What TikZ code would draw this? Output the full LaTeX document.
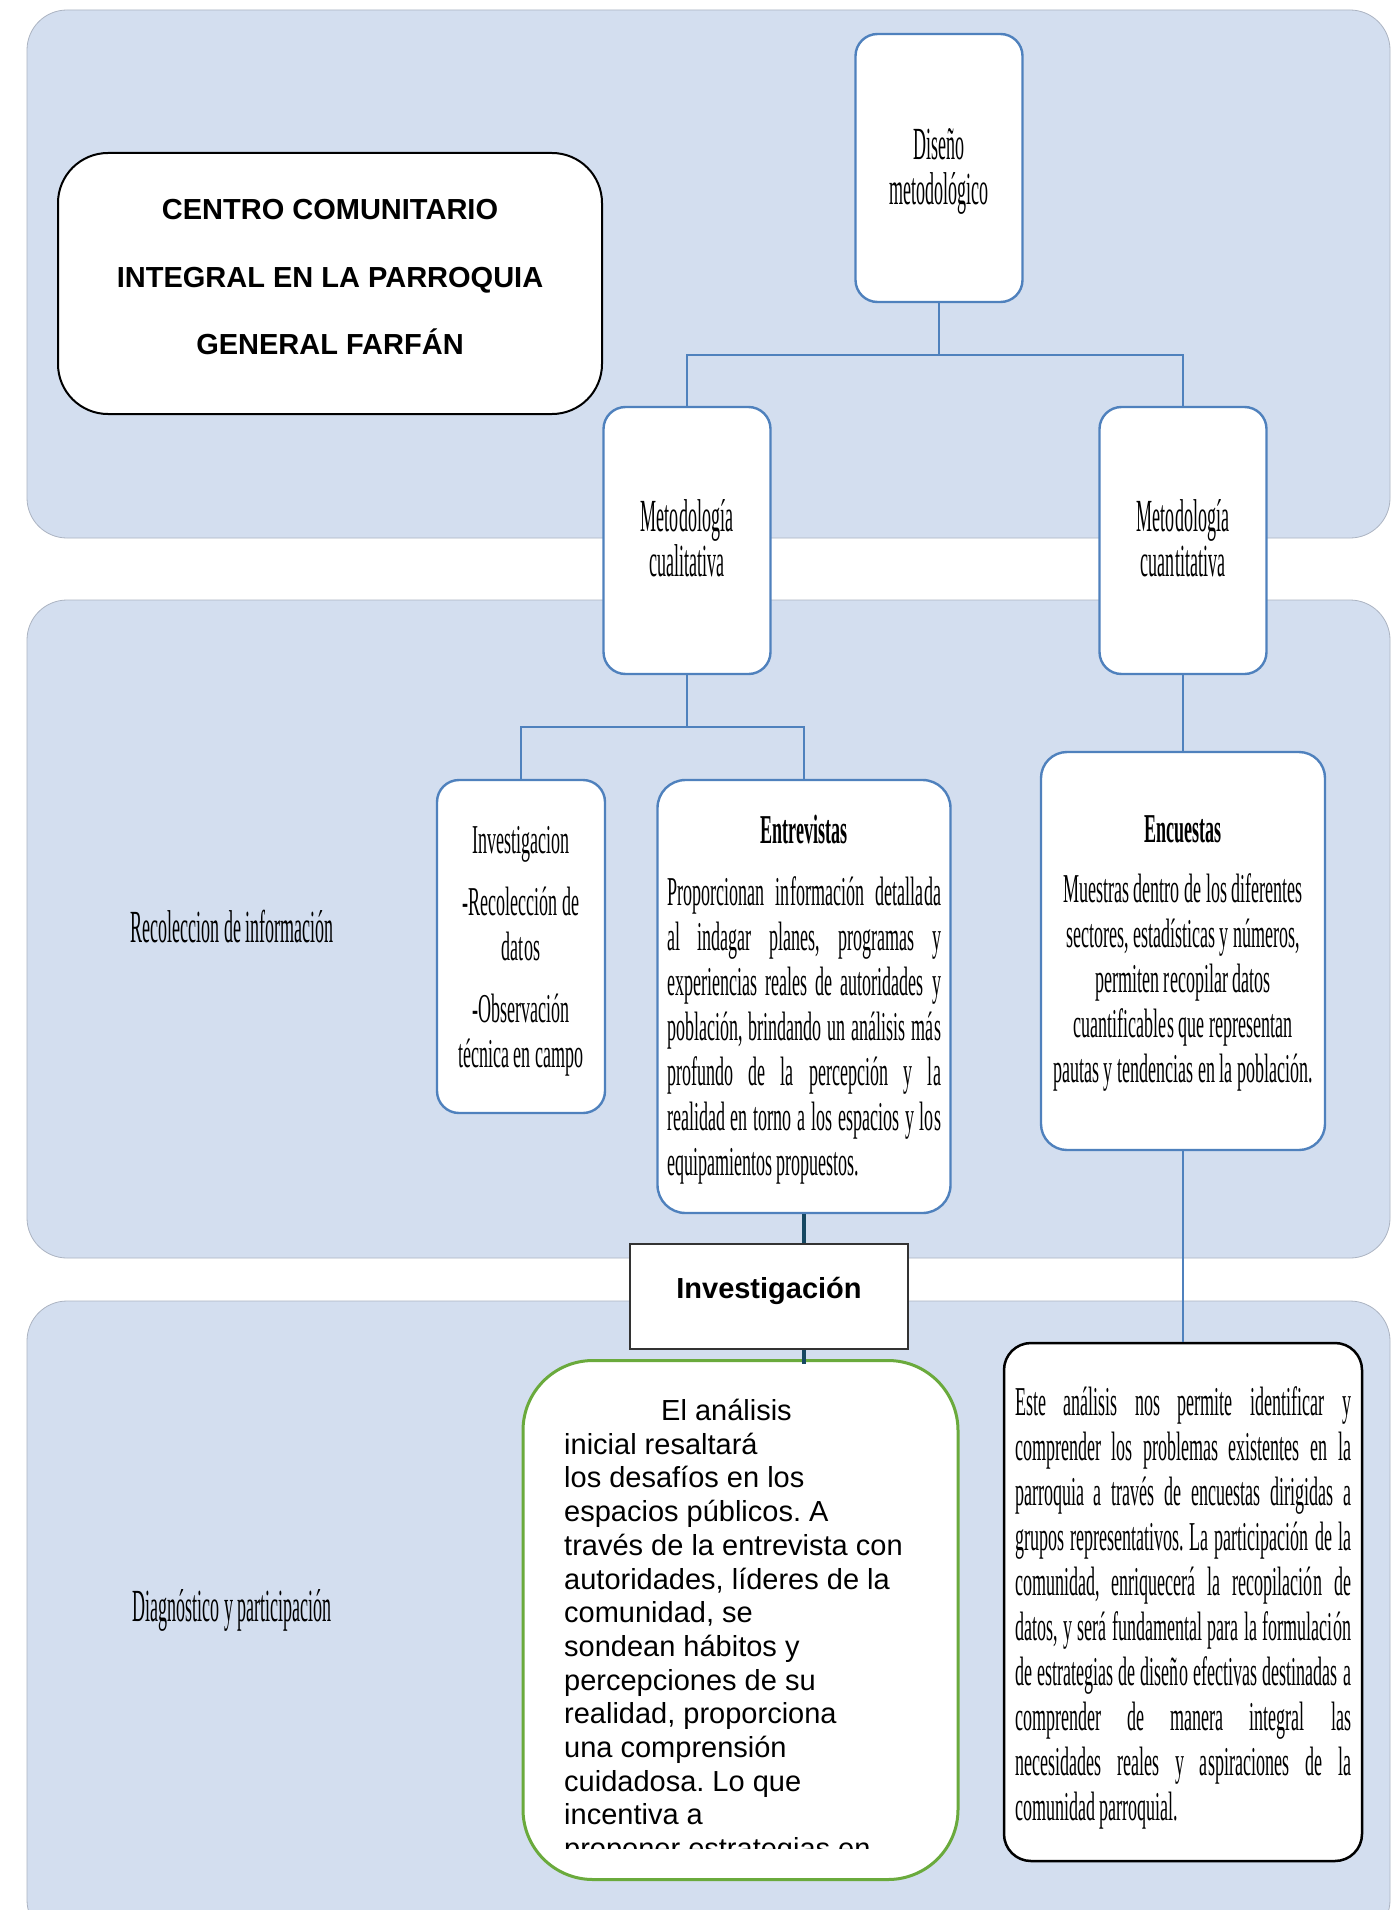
\documentclass[tikz,border=0pt]{standalone}
\usepackage{fontspec}
\setmainfont{Liberation Serif}
\newfontfamily\tallserif[FakeStretch=0.392]{Liberation Serif}
\newfontfamily\bodyserif[FakeStretch=0.44]{Liberation Serif}
\newfontfamily\arialfont{Liberation Sans}
\definecolor{bandfill}{RGB}{211,222,239}
\definecolor{bandline}{RGB}{172,180,194}
\definecolor{boxblue}{RGB}{79,129,189}
\definecolor{darkline}{RGB}{22,72,98}
\definecolor{greenline}{RGB}{106,170,60}
\newcommand{\jline}[1]{\makebox[\linewidth][s]{#1}\par}
\frenchspacing

\begin{document}
\begin{tikzpicture}[x=1pt, y=-1pt,
        bandshape/.style={fill=bandfill, draw=bandline, line width=0.8pt, rounded corners=40pt},
        bluebox/.style={draw=boxblue, line width=2.4pt, fill=white, rounded corners=22pt, inner sep=0pt},
        connline/.style={draw=boxblue, line width=2pt},
        talltext/.style={font=\tallserif\fontsize{46}{45}\selectfont, align=center},
        lefttext/.style={font=\tallserif\fontsize{46}{45}\selectfont},
        bodytext/.style={font=\bodyserif\fontsize{41}{45}\selectfont}]
    \useasboundingbox (0,0) rectangle (1395,1910);
    \clip (0,0) rectangle (1395,1910);
    \fill [white] (0,0) rectangle (1395,1910);
    \draw [bandshape] (27,10) rectangle (1390,538);
    \draw [bandshape] (27,600) rectangle (1390,1258);
    \draw [bandshape] (27,1301) rectangle (1390,1940);

    \node [lefttext, anchor=base] (recol) at (232,942) {Recoleccion de información};
    \node [lefttext, anchor=base] (diag) at (232,1621) {Diagnóstico y participación};

    \node [draw=black, line width=2pt, fill=white, rounded corners=50pt, minimum width=544pt, minimum height=261pt,
        font=\arialfont\bfseries\fontsize{29}{67.8}\selectfont, align=center] (title) at (330,283.5)
        {CENTRO COMUNITARIO\\INTEGRAL EN LA PARROQUIA\\GENERAL FARFÁN\rule[-13pt]{0pt}{1pt}};

    \node [bluebox, talltext, minimum width=167pt, minimum height=268pt] (dis) at (939,168) {\rule{0pt}{38pt}Diseño\\metodológico};
    \node [bluebox, talltext, minimum width=167pt, minimum height=267pt] (cual) at (687,540.5) {Metodología\\cualitativa\rule[-5pt]{0pt}{1pt}};
    \node [bluebox, talltext, minimum width=167pt, minimum height=267pt] (cuan) at (1183,540.5) {Metodología\\cuantitativa\rule[-5pt]{0pt}{1pt}};

    \node [bluebox, bodytext, minimum width=168pt, minimum height=333pt] (inv) at (521,946.5)
        {\parbox{160pt}{\centering\rule{0pt}{36pt}Investigacion\par\vspace{17pt}-Recolección de\\datos\par\vspace{17pt}-Observación\\técnica en campo}};
    \node [bluebox, bodytext, rounded corners=28pt, minimum width=293pt, minimum height=433pt] (entr) at (804,996.5)
        {\parbox{274pt}{{\centering\bfseries\rule{0pt}{34pt}Entrevistas\par}\vspace{17pt}
        \jline{Proporcionan información detallada}
        \jline{al indagar planes, programas y}
        \jline{experiencias reales de autoridades y}
        \jline{población, brindando un análisis más}
        \jline{profundo de la percepción y la}
        \jline{realidad en torno a los espacios y los}
        equipamientos propuestos.}};
    \node [bluebox, bodytext, rounded corners=26pt, minimum width=284pt, minimum height=398pt] (encu) at (1183,951)
        {\parbox{276pt}{\centering\rule{0pt}{32pt}\textbf{Encuestas}\par\vspace{15pt}Muestras dentro de los diferentes\\sectores, estadísticas y números,\\permiten recopilar datos\\cuantificables que representan\\pautas y tendencias en la población.}};

    \node [draw=black!80, line width=1.8pt, fill=white, minimum width=278pt, inner sep=0pt, text height=54pt, text depth=51pt,
        font=\arialfont\bfseries\fontsize{29}{34}\selectfont] (invtitle) at (769,1296.5) {Investigación};

    \node [draw=greenline, line width=3pt, fill=white, rounded corners=70pt, minimum width=435pt, minimum height=519pt] (anal) at (740.5,1620) {};
    \begin{scope}
        \clip (523,1361) rectangle (958,1848);
        \node [anchor=base west, inner sep=0pt, font=\arialfont\fontsize{29}{33.7}\selectfont] (analtext) at (564,1420.5)
            {\parbox[t]{390pt}{\hspace*{97pt}El análisis\\inicial resaltará\\los desafíos en los\\espacios públicos. A\\través de la entrevista con\\autoridades, líderes de la\\comunidad, se\\sondean hábitos y\\percepciones de su\\realidad, proporciona\\una comprensión\\cuidadosa. Lo que\\incentiva a\\proponer estrategias en}};
    \end{scope}

    \node [draw=black, line width=2.5pt, fill=white, rounded corners=27pt, inner sep=0pt, bodytext, minimum width=358pt, minimum height=518pt] (este) at (1183,1602)
        {\parbox{336pt}{\leavevmode\rule{0pt}{40pt}%
        \jline{Este análisis nos permite identificar y}
        \jline{comprender los problemas existentes en la}
        \jline{parroquia a través de encuestas dirigidas a}
        \jline{grupos representativos. La participación de la}
        \jline{comunidad, enriquecerá la recopilación de}
        \jline{datos, y será fundamental para la formulación}
        \jline{de estrategias de diseño efectivas destinadas a}
        \jline{comprender de manera integral las}
        \jline{necesidades reales y aspiraciones de la}
        comunidad parroquial.}};

    \coordinate (b1) at (939,355);
    \coordinate (b2) at (687,727);
    \draw [connline] (dis.south) -- (b1);
    \draw [connline] (cual.north) |- (b1) -| (cuan.north);
    \draw [connline] (cual.south) -- (b2);
    \draw [connline] (inv.north) |- (b2) -| (entr.north);
    \draw [connline] (cuan.south) -- (encu.north);
    \draw [connline] (encu.south) -- (este.north);
    \draw [darkline, line width=4pt] (entr.south) -- (entr.south |- invtitle.north);
    \draw [darkline, line width=4pt] (entr.south |- invtitle.south) -- ([yshift=-5pt]entr.south |- anal.north);
\end{tikzpicture}
\end{document}
